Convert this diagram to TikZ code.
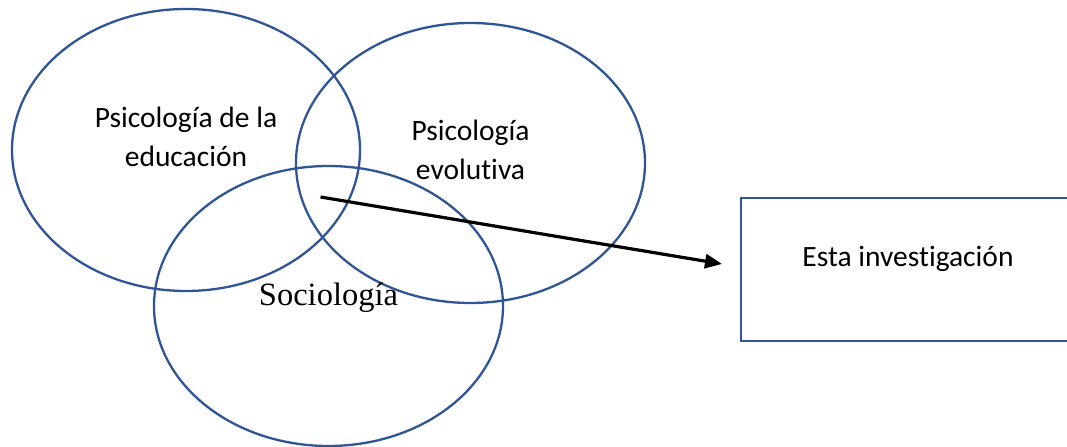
\documentclass[tikz,border=0pt]{standalone}
\usepackage{fontspec}
\setmainfont{Carlito}[Ligatures=NoCommon]
\newfontfamily\timesfont{Liberation Serif}
\usetikzlibrary{shapes.geometric,arrows.meta}
\definecolor{ringblue}{HTML}{2F5597}
\begin{document}
\begin{tikzpicture}[x=1bp,y=-1bp,
  ring/.style={ellipse, draw=ringblue, line width=2.3bp, inner sep=0pt},
  lbl/.style={inner sep=0pt, anchor=base, align=center,
    font=\fontsize{29.5bp}{39bp}\selectfont},
  target/.style={draw=ringblue, line width=2.3bp, inner sep=0pt},
  link/.style={line width=3.2bp, -{Triangle[length=17bp,width=14bp]}}]
\useasboundingbox (0,0) rectangle (1067,447);
\clip (0,0) rectangle (1067,447);
% three overlapping fields
\node[ring, minimum width=348bp, minimum height=282bp] (edu) at (186,150) {};
\node[ring, minimum width=349bp, minimum height=280bp] (evo) at (470.5,163) {};
\node[ring, minimum width=349bp, minimum height=280bp] (soc) at (328.5,306) {};
% field names (base anchor sits on the last line)
\node[lbl] (edutxt) at (186,167) {Psicología de la\\educación};
\node[lbl] (evotxt) at (470.5,180) {Psicología\\evolutiva};
\node[inner sep=0pt, anchor=base, font=\timesfont\fontsize{32.5bp}{38bp}\selectfont]
  (soctxt) at (328.5,306) {Sociología};
% the study box, running off the right side
\node[target, minimum width=334bp, minimum height=143bp] (study) at (908,269.5) {};
\node[lbl] (studytxt) at (908,267) {Esta investigación};
% arrow from the common area to the study
\coordinate (core) at (320.5,197);
\coordinate (tip) at (722,264);
\draw[link] (core) -- (tip);
\end{tikzpicture}
\end{document}
